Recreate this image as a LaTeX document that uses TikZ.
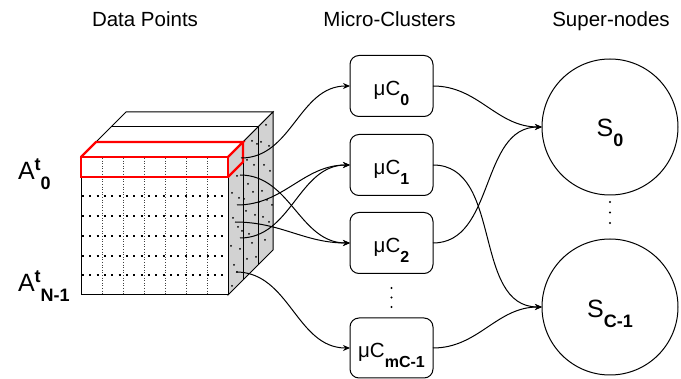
\documentclass[tikz,border=0pt]{standalone}
\usepackage{fontspec}
\setmainfont{Liberation Sans}
\usetikzlibrary{arrows.meta}

% sizes used by the labels
\newcommand{\ttlfont}{\fontsize{20.5}{24}\selectfont}
\newcommand{\bigfont}{\fontsize{25}{30}\selectfont}
\newcommand{\subbox}[2]{\raisebox{#1}{\fontsize{16}{18}\selectfont\bfseries #2}}
\newcommand{\subcirc}[2]{\raisebox{#1}{\fontsize{18}{20}\selectfont\bfseries #2}}
% lower a label so that its baseline sits below the node centre
\newcommand{\lowered}[2]{\raisebox{#1}[0pt][0pt]{#2}}

\begin{document}
\begin{tikzpicture}[x=1pt,y=-1pt,
  every node/.style={inner sep=0pt, outer sep=0pt},
  title/.style={font=\ttlfont, anchor=base},
  mcbox/.style={draw, line width=1pt, rounded corners=9pt,
    minimum width=83pt, minimum height=61pt, font=\ttlfont},
  snode/.style={draw, circle, line width=1pt, minimum size=136pt, font=\bigfont},
  rowlabel/.style={font=\bigfont, anchor=base west},
  link/.style={line width=1pt, -{Stealth[length=7pt,width=6pt]}, out=0, in=180},
  edge/.style={line width=1pt, line join=miter},
  colgrid/.style={line width=0.6pt, black!75, dash pattern=on 1pt off 1.6pt},
  rowgrid/.style={line width=2pt, dash pattern=on 2pt off 5.33pt},
  slab/.style={draw=red, line width=2.3pt, line join=miter},
  dotmark/.style={fill=black}
]
\useasboundingbox (0,0) rectangle (681,379);

% column titles
\node[title] (t1) at (145,27) {Data Points};
\node[title] (t2) at (389.5,27) {Micro-Clusters};
\node[title] (t3) at (611,27) {Super-nodes};

% ---- data cube ----
% top face
\draw[edge, fill=white] (81,157) -- (126,112) -- (273,112) -- (228,157) -- cycle;
\draw[edge] (111,127) -- (258,127);
% side face
\draw[edge, fill=gray!35] (228,157) -- (273,112) -- (273,250) -- (228,295) -- cycle;
\draw[edge] (243,142) -- (243,280);
\draw[edge] (258,127) -- (258,265);
% front face
\draw[edge, fill=white] (81,157) rectangle (228,295);
\foreach \k in {1,...,6}
  \draw[colgrid] ({81+21*\k},158) -- ({81+21*\k},294);
\foreach \r in {1,...,5}
  \draw[rowgrid] (82,{157+19.71*(\r+1)}) -- (228,{157+19.71*(\r+1)});
% points scattered through the depth slices
\foreach \d/\h in {
  9/28, 4/40, 11/52, 5/66, 10/80, 3/92, 12/104, 6/114, 9/124, 4/133,
  24/8, 19/22, 26/34, 20/47, 25/60, 18/72, 27/85, 21/98, 24/110, 19/121,
  38/6, 33/18, 41/30, 36/44, 42/56, 34/68, 39/82, 35/95, 41/106, 37/120,
  29/16, 16/58, 31/76, 14/88, 44/92, 28/128}
  \fill[dotmark] ({228+\d},{157+\h-\d}) circle (1pt);
% highlighted first row
\draw[slab] (81,157) rectangle (228,177);
\draw[slab] (81,157) -- (96,142) -- (243,142) -- (228,157);
\draw[slab] (243,142) -- (243,162) -- (228,177);

% row labels
\node[rowlabel] (a0) at (18,180)
  {A\subcirc{9pt}{t}\subcirc{-10pt}{0}};
\node[rowlabel] (an) at (18,292)
  {A\subcirc{9pt}{t}\subcirc{-10pt}{N-1}};

% ---- micro-clusters ----
\node[mcbox] (mc0) at (391.5,86)  {\lowered{-10pt}{μC\subbox{-10pt}{0}}};
\node[mcbox] (mc1) at (391.5,165) {\lowered{-10pt}{μC\subbox{-10pt}{1}}};
\node[mcbox] (mc2) at (391.5,243) {\lowered{-10pt}{μC\subbox{-10pt}{2}}};
\node[mcbox, minimum height=60pt] (mcm) at (391.5,348)
  {\lowered{-10pt}{μC\subbox{-10pt}{mC-1}}};
\foreach \y in {288,297.5,307}
  \fill[dotmark] (391.5,\y) circle (1.2pt);

% ---- super-nodes ----
\node[snode] (s0) at (610,127) {\lowered{-10pt}{S\subcirc{-10pt}{0}}};
\node[snode] (sc) at (610,307) {\lowered{-11pt}{S\subcirc{-10pt}{C-1}}};
\foreach \y in {202,212.5,223}
  \fill[dotmark] (610,\y) circle (1.2pt);

% ---- assignments ----
\coordinate (p1) at (241,158);
\coordinate (p2) at (240,175);
\coordinate (p3) at (237,205);
\coordinate (p4) at (235,222);
\coordinate (p5) at (240,238);
\coordinate (p6) at (236,272);

\draw[link] (p1) to (mc0.west);
\draw[link] (p2) to (mc2.west);
\draw[link] (p3) to (mc1.west);
\draw[link] (p4) to (mc2.west);
\draw[link] (p5) to (mc1.west);
\draw[link] (p6) to (mcm.west);

\draw[link] (mc0.east) to (s0.west);
\draw[link] (mc1.east) to (sc.west);
\draw[link] (mc2.east) to (s0.west);
\draw[link] (mcm.east) to (sc.west);
\end{tikzpicture}
\end{document}
